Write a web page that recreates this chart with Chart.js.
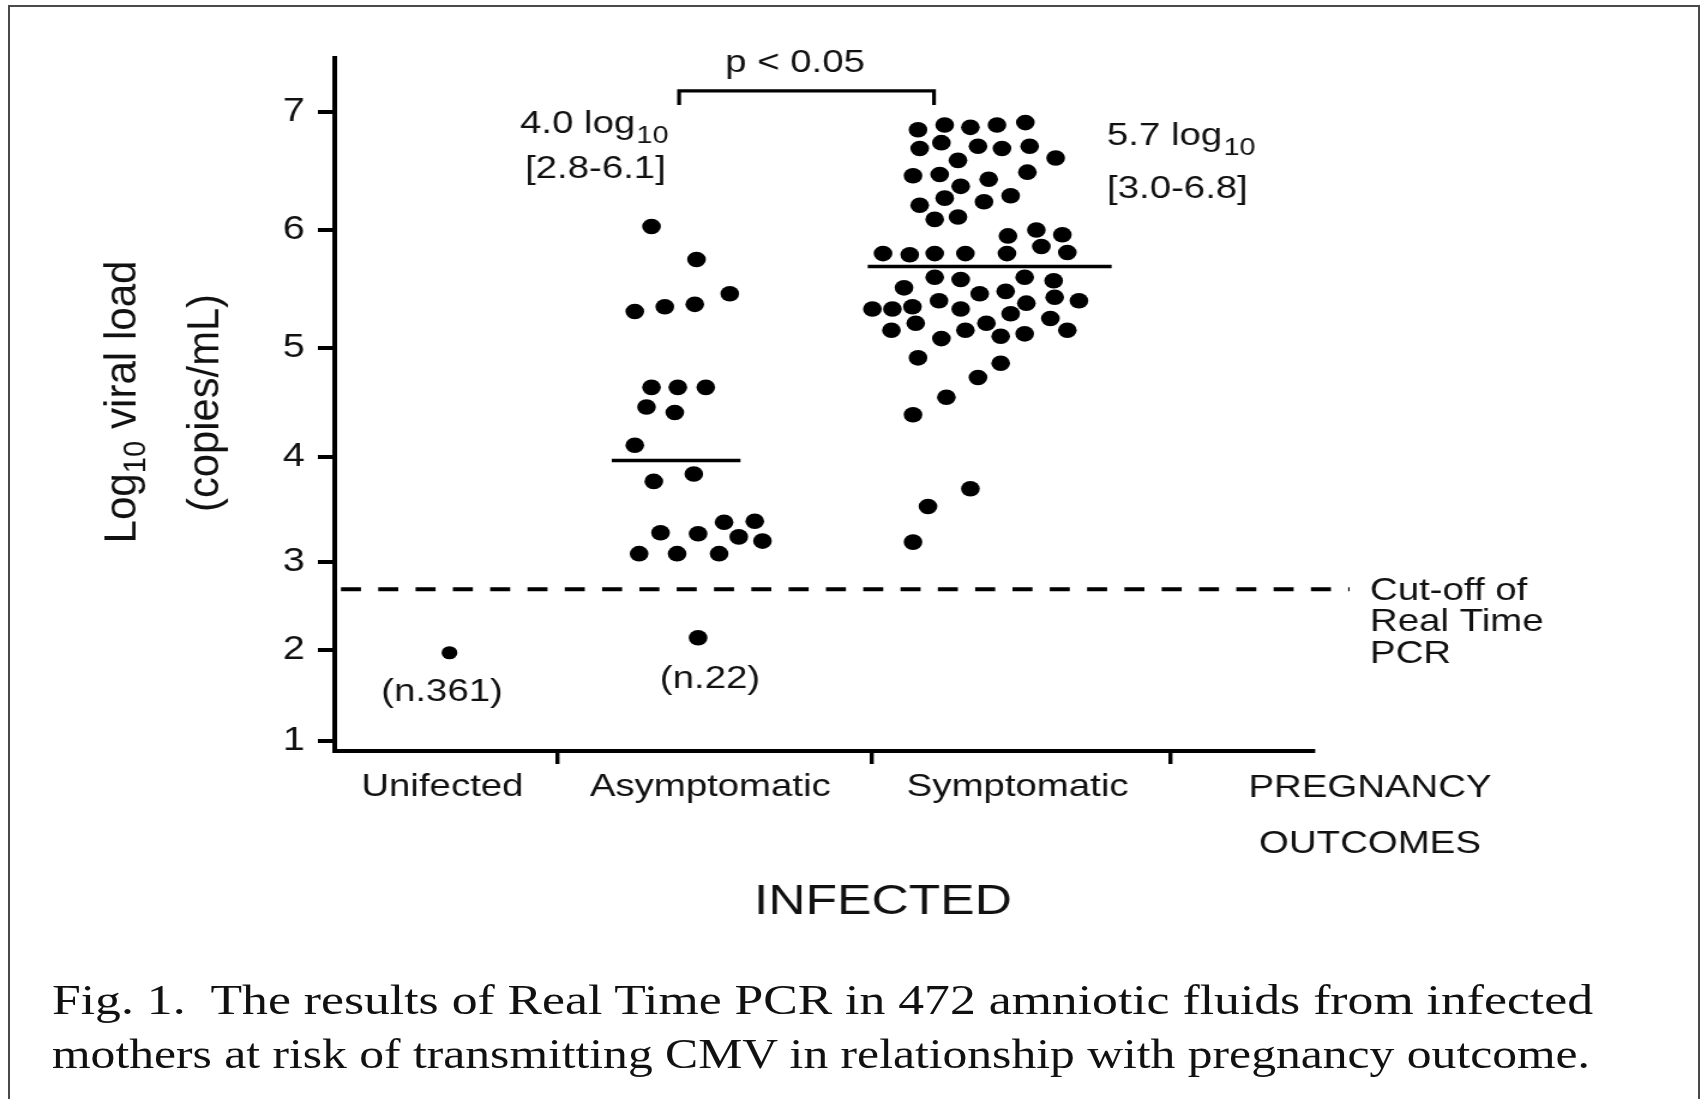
<!DOCTYPE html>
<html>
<head>
<meta charset="utf-8">
<title>Real Time PCR viral load by pregnancy outcome</title>
<script src="https://cdn.jsdelivr.net/npm/chart.js@4.4.1/dist/chart.umd.min.js"></script>
<style>
  html, body { margin: 0; padding: 0; background: #fff; overflow: hidden; }
  body { width: 1707px; height: 1099px; position: relative; }
  #frame { position: absolute; left: 8px; top: 5px; width: 1692px; height: 1200px;
           border: 2px solid #4a4a4a; box-sizing: border-box; }
  #plot { position: absolute; left: 0; top: 0; }
  .cap { position: absolute; left: 52px; white-space: nowrap; color: #111;
         font-family: "Liberation Serif", "Times New Roman", serif;
         font-size: 42px; line-height: 54px; transform-origin: 0 0; }
</style>
</head>
<body>
<div id="frame"></div>
<canvas id="plot" width="1423" height="1099" style="width:1707px;height:1099px"></canvas>
<div class="cap" id="cap1" style="top:973px">Fig. 1.&nbsp; The results of Real Time PCR in 472 amniotic fluids from infected</div>
<div class="cap" id="cap2" style="top:1027px">mothers at risk of transmitting CMV in relationship with pregnancy outcome.</div>
<script>
// The scanned figure is stretched sideways, so the canvas is drawn narrow
// and widened by CSS (1423 -> 1707 px).
const S = 1707 / 1423;
const SANS = '"Liberation Sans", Arial, Helvetica, sans-serif';

// ---- data (x = position along the outcome axis, y = log10 copies/mL) ----
const GROUPS = ['Unifected', 'Asymptomatic', 'Symptomatic'];
const GROUP_CENTERS = [10.75, 37.55, 68.3];
const GROUP_BOUNDS = [22.3, 53.65, 83.6];
const Y_TICKS = [1, 2, 3, 4, 5, 6, 7];

const UNINFECTED_X = [11.46];
const UNINFECTED_Y = [1.97];

const ASYMPT_X = [31.67, 36.17, 30.0, 33.0, 36.0, 39.5, 31.67, 34.3, 37.1, 31.17, 34.0, 30.0,
  31.9, 35.9, 32.57, 36.33, 38.93, 42.0, 40.4, 42.77, 30.43, 34.23, 38.43, 36.33];
const ASYMPT_Y = [6.03, 5.75, 5.31, 5.35, 5.37, 5.46, 4.64, 4.64, 4.64, 4.46, 4.41, 4.11,
  3.77, 3.84, 3.28, 3.27, 3.38, 3.39, 3.24, 3.20, 3.08, 3.08, 3.08, 2.14];

const SYMPT_X = [58.33, 61.0, 63.57, 66.23, 69.07, 58.5, 60.67, 64.33, 66.73, 69.5, 72.1, 62.33,
  57.83, 60.5, 65.4, 69.27, 62.6, 58.5, 61.0, 64.93, 67.6, 60.0, 62.33, 67.33, 70.17, 72.77,
  54.83, 57.5, 60.0, 63.07, 67.23, 70.67, 73.27,
  60.0, 62.6, 69.0, 71.9, 56.93, 64.5, 67.1, 69.17, 72.0, 74.43, 53.77, 55.77, 57.77, 60.43,
  62.6, 58.1, 65.17, 67.6, 71.57, 55.67, 60.67, 63.07, 66.6, 69.0, 73.27, 58.33, 66.6, 64.33,
  61.17, 57.83, 63.57, 59.33, 57.83];
const SYMPT_Y = [6.85, 6.89, 6.87, 6.89, 6.91, 6.69, 6.74, 6.71, 6.69, 6.71, 6.61, 6.59,
  6.46, 6.47, 6.43, 6.49, 6.37, 6.21, 6.27, 6.24, 6.29, 6.09, 6.11, 5.95, 6.00, 5.96,
  5.80, 5.79, 5.80, 5.80, 5.80, 5.86, 5.81,
  5.60, 5.58, 5.60, 5.57, 5.51, 5.46, 5.48, 5.38, 5.43, 5.40, 5.33, 5.33, 5.35, 5.40,
  5.33, 5.21, 5.21, 5.29, 5.25, 5.15, 5.08, 5.15, 5.10, 5.12, 5.15, 4.91, 4.86, 4.73,
  4.55, 4.39, 3.70, 3.53, 3.19];

const MEDIAN_ASYMPT = 3.97;
const MEDIAN_ASYMPT_SPAN = [27.7, 40.57];
const MEDIAN_SYMPT = 5.69;
const MEDIAN_SYMPT_SPAN = [53.3, 77.7];
const CUTOFF = 2.69;
const CUTOFF_SPAN = [0.6, 101.5];
const BRACKET_X = [34.43, 34.43, 59.93, 59.93];
const BRACKET_Y = [7.06, 7.18, 7.18, 7.06];

// ---- y axis of the figure is not evenly spaced: piecewise linear warp ----
const WARP_V = [0.89, 1, 2, 3, 4, 5, 6, 7, 7.46];
const WARP_F = [0, 0.0144, 0.1457, 0.2727, 0.4238, 0.5815, 0.7518, 0.9221, 1];

function warp(v) {
  let i = 0;
  while (i < WARP_V.length - 2 && v > WARP_V[i + 1]) i++;
  const t = (v - WARP_V[i]) / (WARP_V[i + 1] - WARP_V[i]);
  return WARP_F[i] + t * (WARP_F[i + 1] - WARP_F[i]);
}
function unwarp(f) {
  let i = 0;
  while (i < WARP_F.length - 2 && f > WARP_F[i + 1]) i++;
  const t = (f - WARP_F[i]) / (WARP_F[i + 1] - WARP_F[i]);
  return WARP_V[i] + t * (WARP_V[i + 1] - WARP_V[i]);
}

class WarpedScale extends Chart.LinearScale {
  static id = 'warped';
  static defaults = Chart.LinearScale.defaults;
  getPixelForValue(value) { return this.getPixelForDecimal(warp(value)); }
  getValueForPixel(pixel) { return unwarp(this.getDecimalForPixel(pixel)); }
}
Chart.register(WarpedScale);

const pts = (xs, ys) => xs.map((x, i) => ({ x, y: ys[i] }));
const hline = (span, y) => span.map(x => ({ x, y }));

function dots(data, r) {
  return { data, pointStyle: 'circle', pointRadius: r, pointBackgroundColor: '#000',
    pointBorderWidth: 0, showLine: false };
}
function line(data, width, dash) {
  return { data, showLine: true, pointRadius: 0, borderColor: '#000', borderWidth: width,
    borderDash: dash || [], clip: false, tension: 0 };
}

// ---- free text of the figure (positions in page pixels) ----
function txt(ctx, s, x, y, size, align) {
  ctx.font = `${size}px ${SANS}`;
  ctx.textAlign = align || 'left';
  ctx.textBaseline = 'alphabetic';
  ctx.fillText(s, x / S, y);
}
function logLabel(ctx, lead, x, y) {
  ctx.font = `32px ${SANS}`;
  ctx.textAlign = 'left';
  ctx.textBaseline = 'alphabetic';
  ctx.fillText(lead, x / S, y);
  const w = ctx.measureText(lead).width;
  ctx.font = `24px ${SANS}`;
  ctx.fillText('10', x / S + w + 1, y + 10);
}
// rotated title; parts = [[text, isSubscript], ...], fitted to a length
function vTitle(ctx, parts, baseX, cy, len) {
  const size = 36, sub = 25;
  ctx.save();
  ctx.translate(baseX / S, cy);
  ctx.rotate(-Math.PI / 2);
  let total = 0;
  const widths = parts.map(([s, isSub]) => {
    ctx.font = `${isSub ? sub : size}px ${SANS}`;
    const w = ctx.measureText(s).width;
    total += w;
    return w;
  });
  ctx.scale(len / total, 1);
  ctx.textAlign = 'left';
  ctx.textBaseline = 'alphabetic';
  let x = -total / 2;
  parts.forEach(([s, isSub], i) => {
    ctx.font = `${isSub ? sub : size}px ${SANS}`;
    ctx.fillText(s, x, isSub ? 8 : 0);
    x += widths[i];
  });
  ctx.restore();
}

const figureText = {
  id: 'figureText',
  afterDraw(chart) {
    const ctx = chart.ctx;
    ctx.save();
    ctx.fillStyle = '#111';
    vTitle(ctx, [['Log', false], ['10', true], [' viral load', false]], 136, 402, 283);
    vTitle(ctx, [['(copies/mL)', false]], 218, 403, 218);
    txt(ctx, 'p < 0.05', 795, 72, 32, 'center');
    logLabel(ctx, '4.0 log', 520, 133);
    txt(ctx, '[2.8-6.1]', 525, 178, 32);
    logLabel(ctx, '5.7 log', 1107, 145);
    txt(ctx, '[3.0-6.8]', 1107, 198, 32);
    txt(ctx, '(n.361)', 442, 701, 32, 'center');
    txt(ctx, '(n.22)', 710, 688, 32, 'center');
    txt(ctx, 'Cut-off of', 1370, 600, 32);
    txt(ctx, 'Real Time', 1370, 631, 32);
    txt(ctx, 'PCR', 1370, 663, 32);
    txt(ctx, 'PREGNANCY', 1370, 797, 32, 'center');
    txt(ctx, 'OUTCOMES', 1370, 853, 32, 'center');
    txt(ctx, 'INFECTED', 883, 914, 43, 'center');
    ctx.restore();
  }
};

new Chart(document.getElementById('plot'), {
  type: 'scatter',
  data: {
    datasets: [
      dots(pts(UNINFECTED_X, UNINFECTED_Y), 6.6),
      dots(pts(ASYMPT_X, ASYMPT_Y), 7.8),
      dots(pts(SYMPT_X, SYMPT_Y), 7.8),
      line(hline(MEDIAN_ASYMPT_SPAN, MEDIAN_ASYMPT), 3.5),
      line(hline(MEDIAN_SYMPT_SPAN, MEDIAN_SYMPT), 3.5),
      line(hline(CUTOFF_SPAN, CUTOFF), 4, [16.7, 14.4]),
      line(pts(BRACKET_X, BRACKET_Y), 3.2),
    ],
  },
  options: {
    responsive: false,
    animation: false,
    events: [],
    layout: { padding: { left: 0, right: 328, top: 58, bottom: 248 } },
    plugins: { legend: { display: false }, tooltip: { enabled: false } },
    scales: {
      x: {
        type: 'linear', min: 0, max: 97.9, offset: false,
        afterBuildTicks: (s) => {
          s.ticks = [...GROUP_CENTERS, ...GROUP_BOUNDS].sort((a, b) => a - b).map(v => ({ value: v }));
        },
        afterFit: (s) => { s.height = 100; },
        ticks: {
          autoSkip: false, maxRotation: 0, minRotation: 0, padding: 4, color: '#111',
          font: { family: SANS, size: 32 },
          callback: (v) => { const i = GROUP_CENTERS.indexOf(v); return i >= 0 ? GROUPS[i] : ''; },
        },
        grid: {
          drawOnChartArea: false, drawTicks: true, tickLength: 13, lineWidth: 3.4,
          tickColor: (c) => (c.tick && GROUP_BOUNDS.includes(c.tick.value)) ? '#000' : 'rgba(0,0,0,0)',
        },
        border: { display: true, color: '#000', width: 4 },
      },
      y: {
        type: 'warped', min: 0.89, max: 7.46,
        afterBuildTicks: (s) => { s.ticks = Y_TICKS.map(v => ({ value: v })); },
        afterFit: (s) => { s.width = 279.2; },
        ticks: { padding: 11, color: '#111', font: { family: SANS, size: 33 }, callback: (v) => String(v) },
        grid: { drawOnChartArea: false, drawTicks: true, tickLength: 14.2, lineWidth: 4, tickColor: '#000' },
        border: { display: true, color: '#000', width: 4 },
      },
    },
  },
  plugins: [figureText],
});

// caption lines are justified to the width of the figure
function fitCaption() {
  [['cap1', 1541], ['cap2', 1538]].forEach(([id, w]) => {
    const el = document.getElementById(id);
    el.style.transform = 'none';
    const nat = el.getBoundingClientRect().width;
    el.style.transform = `scaleX(${w / nat})`;
  });
}
fitCaption();
if (document.fonts) document.fonts.ready.then(fitCaption);
</script>
</body>
</html>
